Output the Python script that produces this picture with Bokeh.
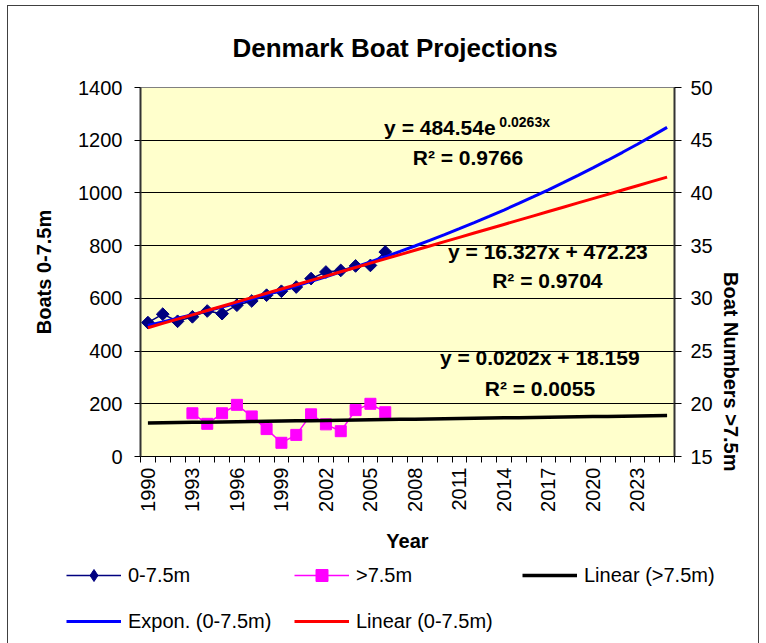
import math
import numpy as np
from bokeh.plotting import figure
from bokeh.layouts import column
from bokeh.models import (Range1d, LinearAxis, FixedTicker, SingleIntervalTicker,
                          Legend, LegendItem, ColumnDataSource)
from bokeh.core.properties import value
from bokeh.embed import file_html
from bokeh.resources import INLINE

# ---------------- data ----------------
years_all = list(range(1990, 2026))
tick_years = list(range(1990, 2024, 3))
years_small = list(range(1990, 2007))
boats_small = [508, 540, 513, 530, 552, 542, 574, 590, 612, 627, 643, 675, 700, 706, 723, 725, 776]
years_large = list(range(1993, 2007))
boats_large = [19.1, 18.1, 19.1, 19.9, 18.8, 17.6, 16.3, 17.05, 19.0, 18.05, 17.4, 19.4, 20.0, 19.2]

# trendline coefficients as displayed on the chart
exp_a, exp_b = 484.54, 0.0263
lin_small_m, lin_small_c = 16.327, 472.23
lin_large_m, lin_large_c = 0.0202, 18.159

eq_exp = "y = 484.54e"
eq_exp_sup = "0.0263x"
r2_exp = "R\u00b2 = 0.9766"
eq_lin_small = "y = 16.327x + 472.23"
r2_lin_small = "R\u00b2 = 0.9704"
eq_lin_large = "y = 0.0202x + 18.159"
r2_lin_large = "R\u00b2 = 0.0055"

series_labels = ["0-7.5m", ">7.5m", "Linear (>7.5m)", "Expon. (0-7.5m)", "Linear (0-7.5m)"]

base_year = years_all[0] - 1
x_small = [y - base_year for y in years_small]
x_large = [y - base_year for y in years_large]
x_trend = np.array([y - base_year for y in years_all], dtype=float)
exp_trend = exp_a * np.exp(exp_b * x_trend)
lin_small_trend = lin_small_m * x_trend + lin_small_c
lin_large_trend = lin_large_m * x_trend + lin_large_c

FONT = "Liberation Sans"
NAVY, MAGENTA, BLUE, RED = "#000080", "#FF00FF", "#0000FF", "#FF0000"

p = figure(width=752, height=553, output_backend="svg", toolbar_location=None,
           x_range=Range1d(0.5, len(years_all) + 0.5), y_range=Range1d(0, 1400),
           min_border_left=132, min_border_right=86, min_border_top=79, min_border_bottom=103,
           background_fill_color="#FFFFCC", border_fill_color="white",
           styles={"margin-left": "7px", "margin-top": "5px",
                   "border-left": "1px solid #404040", "border-top": "1px solid #404040",
                   "border-right": "1px solid #404040", "box-sizing": "border-box"})
p.frame_align = False
p.extra_y_ranges = {"right": Range1d(15, 50)}

p.title.text = "Denmark Boat Projections"
p.title.align = "left"
p.title.offset = 92
p.title.text_font = FONT
p.title.text_font_size = "26px"
p.title.text_font_style = "bold"
p.title.text_color = "black"
p.title.standoff = 49

p.outline_line_color = "#808080"
p.outline_line_width = 1
p.xgrid.visible = False
p.ygrid.grid_line_color = "black"
p.ygrid.grid_line_width = 1
p.ygrid.ticker = SingleIntervalTicker(interval=200)

# x axis
xa = p.xaxis[0]
xa.ticker = FixedTicker(ticks=[y - base_year for y in tick_years],
                        minor_ticks=[i + 0.5 for i in range(0, len(years_all) + 1)])
xa.major_label_overrides = {y - base_year: str(y) for y in tick_years}
xa.major_label_orientation = math.pi / 2
xa.major_tick_out = 0
xa.major_tick_in = 0
xa.minor_tick_out = 6
xa.minor_tick_in = 0
xa.minor_tick_line_color = "black"
xa.axis_line_color = "black"
xa.major_label_standoff = 5
xa.major_label_text_font = FONT
xa.major_label_text_font_size = "20px"
xa.major_label_text_color = "black"
xa.axis_label = "Year"
xa.axis_label_text_font = FONT
xa.axis_label_text_font_size = "20px"
xa.axis_label_text_font_style = "bold"
xa.axis_label_text_color = "black"
xa.axis_label_standoff = 15

# left axis
ya = p.yaxis[0]
ya.ticker = SingleIntervalTicker(interval=200)
ya.minor_tick_line_color = None
ya.major_tick_out = 6
ya.major_tick_in = 0
ya.major_tick_line_color = "black"
ya.axis_line_color = "#333333"
ya.axis_line_width = 2
ya.major_label_standoff = 12
ya.major_label_text_font = FONT
ya.major_label_text_font_size = "20px"
ya.major_label_text_color = "black"
ya.axis_label = "Boats 0-7.5m"
ya.axis_label_text_font = FONT
ya.axis_label_text_font_size = "20px"
ya.axis_label_text_font_style = "bold"
ya.axis_label_text_color = "black"
ya.axis_label_standoff = 20

# right axis
ra = LinearAxis(y_range_name="right", ticker=SingleIntervalTicker(interval=5))
ra.minor_tick_line_color = None
ra.major_tick_out = 7
ra.major_tick_in = 0
ra.major_tick_line_color = "black"
ra.axis_line_color = "#333333"
ra.axis_line_width = 2
ra.major_label_standoff = 9
ra.major_label_text_font = FONT
ra.major_label_text_font_size = "20px"
ra.major_label_text_color = "black"
ra.axis_label = "Boat Numbers >7.5m"
ra.axis_label_text_font = FONT
ra.axis_label_text_font_size = "20px"
ra.axis_label_text_font_style = "bold"
ra.axis_label_text_color = "black"
ra.axis_label_standoff = 15
ra.axis_label_orientation = -math.pi / 2
p.add_layout(ra, "right")

# series
src_s = ColumnDataSource(dict(x=x_small, y=boats_small))
src_l = ColumnDataSource(dict(x=x_large, y=boats_large))
src_t = ColumnDataSource(dict(x=x_trend, e=exp_trend, ls=lin_small_trend, ll=lin_large_trend))


def draw_series(fig, diamond_marker, diamond_size, diamond_angle):
    r1 = fig.line("x", "y", source=src_s, line_color=NAVY, line_width=1.5)
    r2 = fig.scatter("x", "y", source=src_s, marker=diamond_marker, angle=diamond_angle,
                     size=diamond_size, fill_color=NAVY, line_color=NAVY)
    r3 = fig.line("x", "y", source=src_l, y_range_name="right", line_color=MAGENTA, line_width=1.5)
    r4 = fig.scatter("x", "y", source=src_l, y_range_name="right", marker="square", size=11,
                     fill_color=MAGENTA, line_color=MAGENTA)
    r5 = fig.line("x", "ll", source=src_t, y_range_name="right", line_color="black", line_width=3.5)
    r6 = fig.line("x", "e", source=src_t, line_color=BLUE, line_width=3)
    r7 = fig.line("x", "ls", source=src_t, line_color=RED, line_width=3)
    return r1, r2, r3, r4, r5, r6, r7


draw_series(p, "square", 9, math.pi / 4)

# trendline labels
def px_x(px):
    return 0.5 + (px - 140) / (532 / 36)

def px_y(py):
    return (455 - py) * 1400 / 370

lab_main = dict(x=[px_x(545.9), px_x(545.3), px_x(537.8), px_x(537.9), px_x(466.2)],
                y=[px_y(249.2), px_y(279), px_y(356), px_y(386.7), px_y(154.7)],
                t=[eq_lin_small, r2_lin_small, eq_lin_large, r2_lin_large, r2_exp])
p.text("x", "y", "t", source=ColumnDataSource(lab_main), text_font=value(FONT),
       text_font_size="21px", text_font_style="bold", text_align="center",
       text_baseline="middle", text_color="black")
p.text(x=[px_x(382.7)], y=[px_y(125.5)], text=[eq_exp], text_font=value(FONT),
       text_font_size="21px", text_font_style="bold", text_align="left",
       text_baseline="middle", text_color="black")
p.text(x=[px_x(497.5)], y=[px_y(119.5)], text=[eq_exp_sup], text_font=value(FONT),
       text_font_size="14px", text_font_style="bold", text_align="left",
       text_baseline="middle", text_color="black")

# ---------------- legend strip (its own small figure; series kept out of view) ----------------
lg = figure(width=752, height=85, output_backend="svg", toolbar_location=None,
            x_range=Range1d(1000, 1001), y_range=Range1d(5000, 5001),
            x_axis_type=None, y_axis_type=None,
            min_border_left=0, min_border_right=0, min_border_top=0, min_border_bottom=0,
            outline_line_color=None, background_fill_color="white", border_fill_color="white",
            styles={"margin-left": "7px",
                    "border-left": "1px solid #404040", "border-right": "1px solid #404040",
                    "box-sizing": "border-box"})
lg.frame_align = False
lg.extra_y_ranges = {"right": Range1d(5000, 5001)}
lg.xgrid.visible = False
lg.ygrid.visible = False
g1, g2, g3, g4, g5, g6, g7 = draw_series(lg, "diamond", 15, 0)

legend = Legend(items=[
    LegendItem(label=series_labels[0], renderers=[g1, g2]),
    LegendItem(label=series_labels[1], renderers=[g3, g4]),
    LegendItem(label=series_labels[2], renderers=[g5]),
    LegendItem(label=series_labels[3], renderers=[g6]),
    LegendItem(label=series_labels[4], renderers=[g7]),
], location=(58, 7), orientation="horizontal", ncols=3,
    glyph_width=55, glyph_height=30, label_height=30, label_width=150,
    label_standoff=7, spacing=16,
    padding=0, margin=0, border_line_color=None, background_fill_alpha=0,
    label_text_font=FONT, label_text_font_size="20px", label_text_color="black")
lg.add_layout(legend, "center")

layout = column(p, lg, spacing=0)
open("out.html", "w").write(file_html(layout, INLINE))
